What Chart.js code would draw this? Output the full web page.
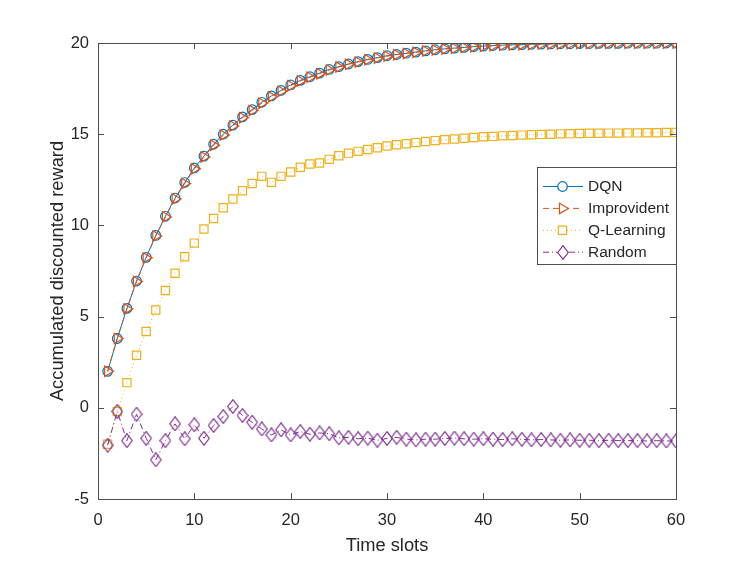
<!DOCTYPE html>
<html>
<head>
    <title>Accumulated discounted reward</title>
    <script src="https://cdn.jsdelivr.net/npm/chart.js"></script>
    <style>
        body { margin: 0; background: #fff; }
    </style>
</head>
<body>
    <canvas id="myChart" width="747" height="561"></canvas>
    <script>
        // time slot index on the x axis
        var timeSlots = [1, 2, 3, 4, 5, 6, 7, 8, 9, 10, 11, 12, 13, 14, 15, 16, 17, 18, 19, 20,
            21, 22, 23, 24, 25, 26, 27, 28, 29, 30, 31, 32, 33, 34, 35, 36, 37, 38, 39, 40,
            41, 42, 43, 44, 45, 46, 47, 48, 49, 50, 51, 52, 53, 54, 55, 56, 57, 58, 59, 60];

        var dqn = [2.0, 3.8, 5.45, 6.95, 8.25, 9.45, 10.5, 11.5, 12.35, 13.15, 13.8, 14.45, 15.0, 15.5, 15.95, 16.35, 16.75, 17.1, 17.4, 17.7,
            17.95, 18.15, 18.35, 18.55, 18.7, 18.85, 18.98, 19.1, 19.2, 19.3, 19.37, 19.44, 19.5, 19.57, 19.63, 19.68, 19.72, 19.76, 19.8, 19.83,
            19.86, 19.88, 19.9, 19.91, 19.93, 19.94, 19.95, 19.96, 19.96, 19.97, 19.97, 19.98, 19.98, 19.98, 19.99, 19.99, 19.99, 19.99, 20.0, 20.0];

        var improvident = [2.0, 3.8, 5.42, 6.92, 8.22, 9.42, 10.46, 11.45, 12.3, 13.1, 13.75, 14.4, 14.95, 15.45, 15.9, 16.3, 16.7, 17.05, 17.36, 17.66,
            17.92, 18.12, 18.32, 18.52, 18.68, 18.83, 18.96, 19.08, 19.18, 19.28, 19.36, 19.43, 19.49, 19.56, 19.62, 19.67, 19.71, 19.75, 19.79, 19.82,
            19.85, 19.87, 19.89, 19.91, 19.92, 19.94, 19.95, 19.95, 19.96, 19.97, 19.97, 19.97, 19.98, 19.98, 19.98, 19.99, 19.99, 19.99, 19.99, 20.0];

        var qLearning = [-2.0, -0.2, 1.38, 2.88, 4.18, 5.36, 6.43, 7.38, 8.28, 9.03, 9.8, 10.38, 10.97, 11.45, 11.9, 12.3, 12.69, 12.36, 12.69, 12.93,
            13.19, 13.37, 13.42, 13.62, 13.82, 13.96, 14.06, 14.16, 14.26, 14.35, 14.42, 14.48, 14.54, 14.6, 14.65, 14.7, 14.74, 14.78, 14.82, 14.86,
            14.88, 14.91, 14.93, 14.95, 14.97, 14.99, 15.0, 15.02, 15.03, 15.04, 15.05, 15.05, 15.06, 15.06, 15.07, 15.07, 15.08, 15.08, 15.09, 15.1];

        var random = [-2.05, -0.2, -1.8, -0.35, -1.67, -2.85, -1.8, -0.88, -1.7, -0.93, -1.67, -0.97, -0.48, 0.07, -0.42, -0.79, -1.16, -1.49, -1.21, -1.49,
            -1.3, -1.45, -1.38, -1.42, -1.65, -1.62, -1.7, -1.66, -1.78, -1.68, -1.62, -1.72, -1.76, -1.72, -1.72, -1.68, -1.66, -1.7, -1.72, -1.7,
            -1.72, -1.74, -1.7, -1.73, -1.76, -1.74, -1.76, -1.78, -1.76, -1.78, -1.78, -1.8, -1.78, -1.8, -1.8, -1.8, -1.82, -1.8, -1.82, -1.82];

        var xTicks = [0, 10, 20, 30, 40, 50, 60];
        var yTicks = [-5, 0, 5, 10, 15, 20];

        var FONT = '"Liberation Sans", Arial, Helvetica, sans-serif';
        var TEXT = '#262626';
        var AXIS = '#4d4d4d';

        // taller-than-wide diamond like matlab's 'd' marker
        function makeDiamond(color) {
            var c = document.createElement('canvas');
            c.width = 12; c.height = 15;
            var g = c.getContext('2d');
            g.strokeStyle = color;
            g.lineWidth = 1.2;
            g.beginPath();
            g.moveTo(6, 0.7);
            g.lineTo(11.3, 7.5);
            g.lineTo(6, 14.3);
            g.lineTo(0.7, 7.5);
            g.closePath();
            g.stroke();
            return c;
        }
        var diamond = makeDiamond('#7E2F8E');

        function toPoints(values) {
            return values.map(function (v, i) { return { x: timeSlots[i], y: v }; });
        }

        var series = [
            { label: 'DQN', values: dqn, color: '#0072BD', dash: [], marker: 'circle', radius: 4.8, rotation: 0, order: 4 },
            { label: 'Improvident', values: improvident, color: '#D95319', dash: [6, 4], marker: 'triangle', radius: 6, rotation: 90, order: 3 },
            { label: 'Q-Learning', values: qLearning, color: '#EDB120', dash: [1, 3], marker: 'rect', radius: 5.8, rotation: 0, order: 2 },
            { label: 'Random', values: random, color: '#7E2F8E', dash: [6, 3, 1, 3], marker: diamond, radius: 6, rotation: 0, order: 1 }
        ];

        var datasets = series.map(function (s) {
            return {
                label: s.label,
                data: toPoints(s.values),
                borderColor: s.color,
                borderWidth: 1,
                borderDash: s.dash,
                backgroundColor: 'rgba(0,0,0,0)',
                pointStyle: s.marker,
                pointRadius: s.radius,
                pointRotation: s.rotation,
                pointBorderColor: s.color,
                pointBackgroundColor: 'rgba(0,0,0,0)',
                pointBorderWidth: 1.2,
                tension: 0,
                order: s.order
            };
        });

        // box around the axes with inward ticks on all sides
        var matlabAxes = {
            id: 'matlabAxes',
            afterDatasetsDraw: function (chart) {
                var ctx = chart.ctx;
                var a = chart.chartArea;
                var xs = chart.scales.x, ys = chart.scales.y;
                var len = 6;
                ctx.save();
                ctx.strokeStyle = AXIS;
                ctx.lineWidth = 1;
                ctx.setLineDash([]);
                ctx.beginPath();
                xTicks.forEach(function (t) {
                    var px = Math.round(xs.getPixelForValue(t)) + 0.5;
                    ctx.moveTo(px, a.bottom); ctx.lineTo(px, a.bottom - len);
                    ctx.moveTo(px, a.top); ctx.lineTo(px, a.top + len);
                });
                yTicks.forEach(function (t) {
                    var py = Math.round(ys.getPixelForValue(t)) + 0.5;
                    ctx.moveTo(a.left, py); ctx.lineTo(a.left + len, py);
                    ctx.moveTo(a.right, py); ctx.lineTo(a.right - len, py);
                });
                ctx.stroke();
                ctx.strokeRect(Math.round(a.left) + 0.5, Math.round(a.top) + 0.5,
                    Math.round(a.right - a.left), Math.round(a.bottom - a.top));
                ctx.restore();
            },
            afterDraw: function (chart) {
                // legend box inside the axes, upper right
                var ctx = chart.ctx;
                var a = chart.chartArea;
                var bx = 537.5, by = 167.5, bw = Math.round(a.right) - 537, bh = 97;
                var rowH = 21.9;
                ctx.save();
                ctx.fillStyle = '#fff';
                ctx.fillRect(bx, by, bw, bh);
                ctx.strokeStyle = AXIS;
                ctx.lineWidth = 1;
                ctx.strokeRect(bx, by, bw, bh);
                ctx.font = '15.5px ' + FONT;
                ctx.textBaseline = 'middle';
                ctx.textAlign = 'left';
                series.forEach(function (s, i) {
                    var cy = 186.5 + i * rowH;
                    var cx = 562.5;
                    ctx.strokeStyle = s.color;
                    ctx.lineWidth = 1;
                    ctx.setLineDash(s.dash);
                    ctx.beginPath();
                    ctx.moveTo(543, cy); ctx.lineTo(583, cy);
                    ctx.stroke();
                    ctx.setLineDash([]);
                    ctx.lineWidth = 1.2;
                    // clear behind the marker so it reads hollow like the plot
                    ctx.beginPath();
                    if (s.marker === 'circle') {
                        ctx.arc(cx, cy, s.radius, 0, Math.PI * 2);
                        ctx.fillStyle = '#fff'; ctx.fill(); ctx.stroke();
                    } else if (s.marker === 'triangle') {
                        var r = s.radius;
                        ctx.moveTo(cx + r, cy);
                        ctx.lineTo(cx - r * 0.5, cy - r * 0.866);
                        ctx.lineTo(cx - r * 0.5, cy + r * 0.866);
                        ctx.closePath();
                        ctx.fillStyle = '#fff'; ctx.fill(); ctx.stroke();
                    } else if (s.marker === 'rect') {
                        var h = s.radius * Math.SQRT1_2;
                        ctx.rect(cx - h, cy - h, 2 * h, 2 * h);
                        ctx.fillStyle = '#fff'; ctx.fill(); ctx.stroke();
                    } else {
                        ctx.fillStyle = '#fff';
                        ctx.moveTo(cx, cy - 7); ctx.lineTo(cx + 5.5, cy); ctx.lineTo(cx, cy + 7); ctx.lineTo(cx - 5.5, cy);
                        ctx.closePath(); ctx.fill();
                        ctx.drawImage(s.marker, Math.round(cx - s.marker.width / 2), Math.round(cy - s.marker.height / 2));
                    }
                    ctx.fillStyle = TEXT;
                    ctx.fillText(s.label, 588, cy + 0.5);
                });
                ctx.restore();
            }
        };

        var ctx = document.getElementById('myChart').getContext('2d');
        var myChart = new Chart(ctx, {
            type: 'line',
            data: { datasets: datasets },
            options: {
                responsive: false,
                animation: false,
                events: [],
                layout: { padding: { left: 0, top: 43, right: 71, bottom: 0 } },
                plugins: {
                    legend: { display: false },
                    tooltip: { enabled: false }
                },
                scales: {
                    x: {
                        type: 'linear',
                        min: 0,
                        max: 60,
                        afterFit: function (scale) { scale.height = 62; },
                        afterBuildTicks: function (scale) {
                            scale.ticks = xTicks.map(function (v) { return { value: v }; });
                        },
                        grid: { display: false, drawTicks: false },
                        border: { display: false },
                        ticks: {
                            padding: 12,
                            color: TEXT,
                            maxRotation: 0,
                            font: { family: FONT, size: 16.5 }
                        },
                        title: {
                            display: true,
                            text: 'Time slots',
                            color: TEXT,
                            font: { family: FONT, size: 18.3 },
                            padding: { top: 0, bottom: 4 }
                        }
                    },
                    y: {
                        min: -5,
                        max: 20,
                        afterFit: function (scale) { scale.width = 98; },
                        afterBuildTicks: function (scale) {
                            scale.ticks = yTicks.map(function (v) { return { value: v }; });
                        },
                        grid: { display: false, drawTicks: false },
                        border: { display: false },
                        ticks: {
                            padding: 9,
                            color: TEXT,
                            font: { family: FONT, size: 16.5 }
                        },
                        title: {
                            display: true,
                            text: 'Accumulated discounted reward',
                            color: TEXT,
                            font: { family: FONT, size: 18.3 },
                            padding: { top: 47, bottom: 0 }
                        }
                    }
                }
            },
            plugins: [matlabAxes]
        });
    </script>
</body>
</html>
